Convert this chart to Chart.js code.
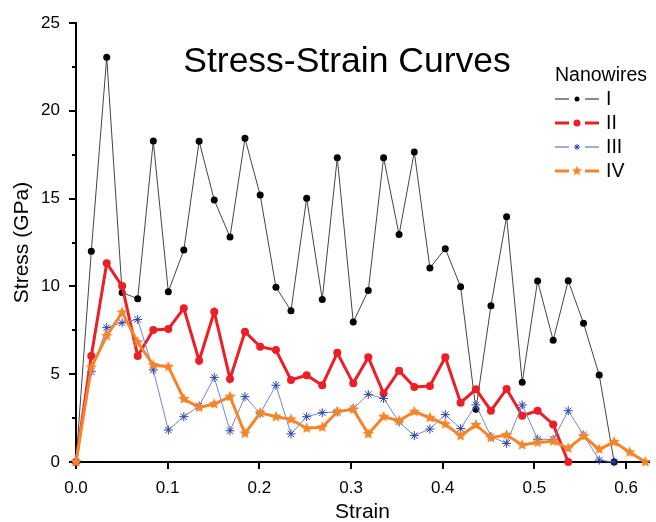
<!DOCTYPE html>
<html>
<head>
<meta charset="utf-8">
<script src="https://cdn.jsdelivr.net/npm/chart.js@4"></script>
<style>
  html, body { margin: 0; padding: 0; background: #fff; }
</style>
</head>
<body>
<canvas id="stress-chart" width="656" height="522"></canvas>
<script>
const chartTitle = "Stress-Strain Curves";
const legendTitle = "Nanowires";
const seriesNames = ["I", "II", "III", "IV"];

// strain values shared by all four curves
const strain = [0, 0.0167, 0.0335, 0.0503, 0.0673, 0.0843, 0.1007, 0.1176, 0.1343, 0.1508,
    0.168, 0.1843, 0.2009, 0.2181, 0.2345, 0.2516, 0.2686, 0.285, 0.3024, 0.3188,
    0.3355, 0.3524, 0.369, 0.386, 0.4028, 0.4195, 0.4362, 0.4526, 0.4697, 0.4867,
    0.5035, 0.5205, 0.5369, 0.5536, 0.5707, 0.587, 0.604, 0.621];

// stress in GPa
const stressI = [0, 12.0, 23.05, 9.65, 9.3, 18.28, 9.7, 12.07, 18.26, 14.92,
    12.81, 18.43, 15.2, 9.95, 8.62, 15.02, 9.26, 17.33, 7.97, 9.76,
    17.33, 12.95, 17.65, 11.05, 12.15, 9.98, 3.0, 8.9, 13.97, 4.54,
    10.31, 6.93, 10.32, 7.9, 4.95, 0];
const stressII = [0, 6.04, 11.32, 10.02, 6.04, 7.52, 7.57, 8.75, 5.77, 8.56,
    4.73, 7.42, 6.57, 6.38, 4.67, 4.94, 4.37, 6.22, 4.48, 5.96,
    3.91, 5.2, 4.27, 4.33, 5.96, 3.38, 4.14, 2.92, 4.16, 2.64,
    2.92, 2.14, 0];
const stressIII = [0, 5.14, 7.65, 7.93, 8.12, 5.24, 1.82, 2.58, 3.19, 4.82,
    1.78, 3.72, 2.77, 4.37, 1.6, 2.58, 2.81, 2.85, 3.05, 3.85,
    3.62, 2.28, 1.5, 1.88, 2.7, 1.9, 3.25, 1.45, 1.06, 3.25,
    1.3, 1.29, 2.92, 1.54, 0.11, 0];
const stressIV = [0, 5.39, 7.18, 8.52, 6.82, 5.52, 5.43, 3.59, 3.11, 3.3,
    3.72, 1.63, 2.8, 2.58, 2.43, 1.92, 1.98, 2.87, 3.0, 1.6,
    2.58, 2.35, 2.87, 2.52, 2.15, 1.49, 2.11, 1.38, 1.54, 0.97,
    1.11, 1.18, 0.78, 1.48, 0.72, 1.14, 0.55, 0];

const yMinorTicks = [2.5, 7.5, 12.5, 17.5, 22.5];

const FONT = "'Liberation Sans', Arial, sans-serif";

const toPoints = (values) => values.map((v, i) => ({ x: strain[i], y: v }));

// filled five-point star used as marker for curve IV
function starMarker(size, color) {
    const c = document.createElement("canvas");
    c.width = size;
    c.height = size;
    const g = c.getContext("2d");
    const r = size / 2;
    const ri = r * 0.45;
    g.beginPath();
    for (let k = 0; k < 10; k++) {
        const a = -Math.PI / 2 + (k * Math.PI) / 5;
        const rr = k % 2 ? ri : r;
        g.lineTo(r + rr * Math.cos(a), r + rr * Math.sin(a));
    }
    g.closePath();
    g.fillStyle = color;
    g.fill();
    return c;
}

const orange = "#f5852a";
const starBig = starMarker(12, orange);
const starSmall = starMarker(11, orange);

const datasets = [
    {
        label: seriesNames[0],
        data: toPoints(stressI),
        borderColor: "#444",
        borderWidth: 1,
        pointStyle: "circle",
        pointRadius: 3.5,
        pointBackgroundColor: "#000",
        pointBorderColor: "#000",
        pointBorderWidth: 0,
        legendLine: "#8a8a8a",
        legendWidth: 2,
        legendRadius: 2.5,
        order: 4,
    },
    {
        label: seriesNames[1],
        data: toPoints(stressII),
        borderColor: "#ec1f26",
        borderWidth: 3,
        pointStyle: "circle",
        pointRadius: 4,
        pointBackgroundColor: "#ec1f26",
        pointBorderColor: "#ec1f26",
        pointBorderWidth: 0,
        legendLine: "#ec1f26",
        legendWidth: 3,
        legendRadius: 3.5,
        order: 3,
    },
    {
        label: seriesNames[2],
        data: toPoints(stressIII),
        borderColor: "#7186cf",
        borderWidth: 1,
        pointStyle: "star",
        pointRadius: 4.5,
        pointBackgroundColor: "#2a3fa8",
        pointBorderColor: "#2a3fa8",
        pointBorderWidth: 1,
        legendLine: "#9eabdc",
        legendWidth: 2,
        legendRadius: 3,
        order: 2,
    },
    {
        label: seriesNames[3],
        data: toPoints(stressIV),
        borderColor: orange,
        borderWidth: 3,
        pointStyle: starBig,
        pointRadius: 5,
        pointBackgroundColor: orange,
        pointBorderColor: orange,
        pointBorderWidth: 0,
        legendLine: orange,
        legendWidth: 3,
        legendMarker: starSmall,
        legendRadius: 5,
        order: 1,
    },
];

// title and legend sit inside the plot, plus short minor ticks on the y axis
const overlay = {
    id: "overlay",
    afterDraw(chart) {
        const ctx = chart.ctx;
        const yScale = chart.scales.y;
        const left = chart.chartArea.left;
        ctx.save();

        ctx.strokeStyle = "#000";
        ctx.lineWidth = 2;
        yMinorTicks.forEach((v) => {
            const py = Math.round(yScale.getPixelForValue(v));
            ctx.beginPath();
            ctx.moveTo(left - 4, py);
            ctx.lineTo(left, py);
            ctx.stroke();
        });

        ctx.fillStyle = "#000";
        ctx.font = "35.5px " + FONT;
        ctx.textAlign = "center";
        ctx.textBaseline = "middle";
        ctx.fillText(chartTitle, 347, 62);

        ctx.font = "19.5px " + FONT;
        ctx.textAlign = "left";
        ctx.fillText(legendTitle, 555, 76);

        chart.data.datasets.forEach((ds, i) => {
            const y = 99 + i * 24;
            ctx.strokeStyle = ds.legendLine;
            ctx.lineWidth = ds.legendWidth;
            ctx.beginPath();
            ctx.moveTo(555, y);
            ctx.lineTo(569, y);
            ctx.moveTo(585, y);
            ctx.lineTo(599, y);
            ctx.stroke();

            ctx.fillStyle = ds.pointBackgroundColor;
            ctx.strokeStyle = ds.pointBorderColor;
            ctx.lineWidth = ds.pointBorderWidth || 1;
            Chart.helpers.drawPoint(ctx, {
                pointStyle: ds.legendMarker || ds.pointStyle,
                radius: ds.legendRadius,
                borderWidth: ds.pointBorderWidth,
                rotation: 0,
            }, 577, y);

            ctx.fillStyle = "#000";
            ctx.fillText(ds.label, 606, y + 1);
        });
        ctx.restore();
    },
};

const ctx = document.getElementById("stress-chart").getContext("2d");
const chart = new Chart(ctx, {
    type: "line",
    data: { datasets: datasets },
    options: {
        responsive: false,
        animation: false,
        layout: { padding: { top: 23, right: 7, left: 0, bottom: 0 } },
        elements: { line: { tension: 0 } },
        datasets: { line: { clip: 6 } },
        plugins: {
            legend: { display: false },
            title: { display: false },
            tooltip: { enabled: false },
        },
        scales: {
            x: {
                type: "linear",
                min: 0,
                max: 0.625,
                border: { color: "#000", width: 2 },
                grid: { drawOnChartArea: false, color: "#000", lineWidth: 2, tickLength: 7 },
                ticks: {
                    stepSize: 0.1,
                    includeBounds: false,
                    color: "#000",
                    padding: 9,
                    font: { family: FONT, size: 17 },
                    callback: (v) => v.toFixed(1),
                },
                title: {
                    display: true,
                    text: "Strain",
                    color: "#000",
                    font: { family: FONT, size: 21, lineHeight: 1 },
                    padding: { top: 0, bottom: -1 },
                },
                afterFit: (scale) => { scale.height = 60; },
            },
            y: {
                type: "linear",
                min: 0,
                max: 25,
                border: { color: "#000", width: 2 },
                grid: { drawOnChartArea: false, color: "#000", lineWidth: 2, tickLength: 7 },
                ticks: {
                    stepSize: 5,
                    color: "#000",
                    padding: 9,
                    font: { family: FONT, size: 17 },
                },
                title: {
                    display: true,
                    text: "Stress (GPa)",
                    color: "#000",
                    font: { family: FONT, size: 21, lineHeight: 1 },
                    padding: { top: 12, bottom: 0 },
                },
                afterFit: (scale) => { scale.width = 76; },
            },
        },
    },
    plugins: [overlay],
});
</script>
</body>
</html>
